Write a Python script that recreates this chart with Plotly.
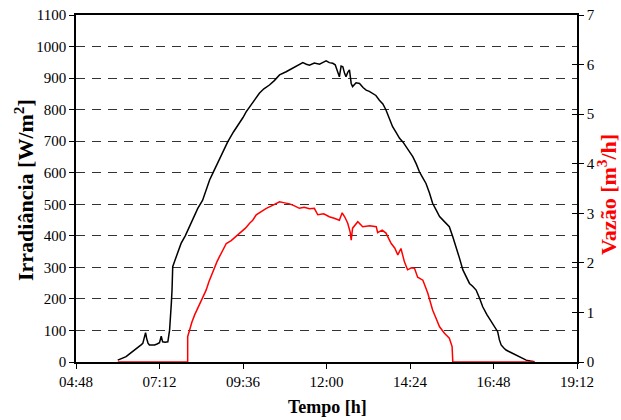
import plotly.graph_objects as go

# Time axis ticks (hours) and labels
tick_hours = [4.8, 7.2, 9.6, 12.0, 14.4, 16.8, 19.2]
tick_labels = ["04:48", "07:12", "09:36", "12:00", "14:24", "16:48", "19:12"]

# Irradiance (W/m2) vs time (h)
irr_time = [6.00, 6.12, 6.24, 6.33, 6.43, 6.52, 6.62, 6.68, 6.72, 6.76, 6.80, 6.83, 6.87, 6.91,
            6.98, 7.06, 7.13, 7.20, 7.25, 7.29, 7.36, 7.44, 7.49, 7.52, 7.54, 7.56, 7.58, 7.63,
            7.72, 7.82, 7.94, 8.06, 8.18, 8.30, 8.44, 8.54, 8.64, 8.73, 8.85, 8.97, 9.06, 9.16,
            9.33, 9.50, 9.60, 9.69, 9.88, 10.07, 10.20, 10.36, 10.50, 10.65, 10.84, 11.03, 11.12,
            11.22, 11.32, 11.42, 11.51, 11.65, 11.80, 11.90, 11.99, 12.08, 12.18, 12.25, 12.32,
            12.37, 12.42, 12.47, 12.52, 12.56, 12.61, 12.66, 12.71, 12.75, 12.85, 12.95, 13.05,
            13.14, 13.23, 13.33, 13.42, 13.52, 13.62, 13.71, 13.80, 13.90, 14.00, 14.10, 14.20,
            14.29, 14.38, 14.48, 14.58, 14.67, 14.76, 14.86, 14.96, 15.05, 15.15, 15.25, 15.39,
            15.53, 15.63, 15.73, 15.82, 15.92, 16.02, 16.11, 16.20, 16.30, 16.40, 16.49, 16.61,
            16.73, 16.82, 16.92, 16.97, 17.02, 17.09, 17.16, 17.30, 17.45, 17.60, 17.74, 17.86, 17.98]
irradiance = [6, 11, 17, 25, 33, 40, 49, 55, 59, 78, 93, 75, 60, 54,
              53, 54, 57, 61, 82, 64, 63, 64, 101, 140, 186, 228, 302, 318,
              348, 376, 400, 429, 458, 487, 513, 545, 577, 598, 627, 656, 676, 698,
              730, 757, 775, 793, 822, 852, 866, 878, 892, 910, 920, 931, 936,
              941, 949, 944, 941, 948, 944, 950, 955, 949, 947, 942, 920,
              904, 938, 936, 915, 904, 918, 926, 883, 873, 885, 883, 870,
              862, 858, 852, 845, 830, 818, 799, 772, 746, 728, 709, 697,
              682, 668, 651, 628, 603, 585, 566, 536, 503, 482, 461, 445,
              429, 397, 365, 330, 292, 268, 249, 240, 228, 202, 175, 150,
              128, 112, 96, 70, 54, 45, 38, 30, 22, 12, 6, 3, 1]

# Flow rate (m3/h) vs time (h)
flow_time = [6.00, 8.01, 8.01, 8.06, 8.13, 8.21, 8.30, 8.40, 8.47, 8.54, 8.62, 8.69, 8.78, 8.85,
             8.92, 9.02, 9.12, 9.26, 9.40, 9.55, 9.67, 9.79, 9.88, 9.98, 10.12, 10.27, 10.45,
             10.65, 10.80, 10.94, 11.08, 11.22, 11.36, 11.51, 11.65, 11.75, 11.92, 12.08, 12.22,
             12.37, 12.45, 12.53, 12.61, 12.68, 12.71, 12.75, 12.90, 13.04, 13.24, 13.43, 13.47,
             13.60, 13.71, 13.86, 13.96, 14.05, 14.14, 14.24, 14.33, 14.44, 14.53, 14.62, 14.77,
             14.91, 15.05, 15.15, 15.25, 15.39, 15.53, 15.61, 15.63, 15.63, 17.98]
flow = [0.0, 0.0, 0.51, 0.65, 0.80, 0.95, 1.08, 1.25, 1.36, 1.45, 1.62, 1.75, 1.92, 2.02,
        2.12, 2.25, 2.39, 2.45, 2.53, 2.63, 2.70, 2.80, 2.86, 2.97, 3.04, 3.10, 3.16,
        3.23, 3.21, 3.19, 3.15, 3.10, 3.12, 3.09, 3.10, 2.97, 2.99, 2.93, 2.90,
        2.86, 3.01, 2.92, 2.80, 2.62, 2.46, 2.70, 2.83, 2.73, 2.75, 2.73, 2.61,
        2.66, 2.60, 2.39, 2.30, 2.16, 2.29, 2.02, 1.86, 1.90, 1.89, 1.71, 1.65,
        1.39, 1.05, 0.88, 0.71, 0.58, 0.48, 0.31, 0.0, 0.0, 0.0]

FONT = "Liberation Serif"
W, H = 621, 420
L, R, T, B = 76, 44, 15, 58
PW, PH = W - L - R, H - T - B


def px(x):
    return (x - L) / PW


def py(y):
    return (H - B - y) / PH


fig = go.Figure()
fig.add_trace(go.Scatter(x=irr_time, y=irradiance, mode="lines",
                         line=dict(color="black", width=1.5), showlegend=False))
fig.add_trace(go.Scatter(x=flow_time, y=flow, mode="lines", yaxis="y2",
                         line=dict(color="#ff0000", width=1.5), showlegend=False))
# invisible trace to carry inner tick marks on the right axis
fig.add_trace(go.Scatter(x=[4.8], y=[0], yaxis="y3", mode="lines", opacity=0,
                         hoverinfo="skip", showlegend=False))

fig.update_layout(
    width=W, height=H,
    margin=dict(l=L, r=R, t=T, b=B),
    paper_bgcolor="white", plot_bgcolor="white",
    font=dict(family=FONT, size=15, color="black"),
    xaxis=dict(range=[4.8, 19.2], tickvals=tick_hours, ticktext=tick_labels,
               showgrid=False, zeroline=False, showline=True, linecolor="black",
               linewidth=1.5, mirror=True, ticks="outside", ticklen=5,
               tickcolor="black", automargin=False, layer="below traces"),
    yaxis=dict(range=[0, 1100], dtick=100, showgrid=True, gridcolor="#333333",
               griddash="9px,7px", gridwidth=1, zeroline=False, showline=True,
               linecolor="black", linewidth=1.5, ticks="outside", ticklen=5,
               tickcolor="black", automargin=False),
    yaxis2=dict(range=[0, 7], dtick=1, overlaying="y", side="right", showgrid=False,
                zeroline=False, showline=True, linecolor="black", linewidth=1.5,
                ticks="outside", ticklen=5, tickcolor="black", automargin=False),
    yaxis3=dict(range=[0, 7], dtick=1, overlaying="y", side="right", showgrid=False,
                zeroline=False, showline=False, ticks="inside", ticklen=5,
                tickcolor="black", showticklabels=False, automargin=False),
    annotations=[
        dict(text="<b>Tempo [h]</b>", xref="paper", yref="paper",
             x=px(327), y=py(407), showarrow=False, xanchor="center", yanchor="middle",
             font=dict(size=18, color="black")),
        dict(text="<b>Irradiância [W/m<sup>2</sup>]</b>", xref="paper", yref="paper",
             x=px(24), y=py(190), showarrow=False, textangle=-90,
             xanchor="center", yanchor="middle", font=dict(size=22, color="black")),
        dict(text="<b>Vazão [m<sup>3</sup>/h]</b>", xref="paper", yref="paper",
             x=px(607), y=py(195), showarrow=False, textangle=-90,
             xanchor="center", yanchor="middle", font=dict(size=22, color="#ff0000")),
    ],
)

fig.write_html("out.html", config={"displayModeBar": False},
               post_script="document.body.style.margin='0';document.body.style.padding='0';")
